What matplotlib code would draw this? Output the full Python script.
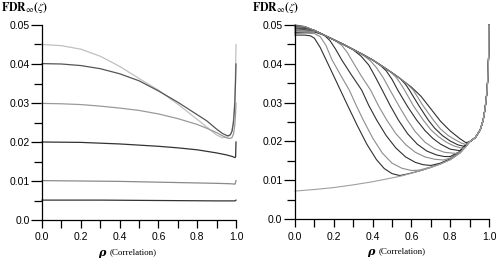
import matplotlib
matplotlib.use("Agg")
import matplotlib.pyplot as plt
from matplotlib.ticker import MultipleLocator, FixedLocator

plt.rcParams['font.family'] = ['Liberation Sans', 'DejaVu Sans']
plt.rcParams['mathtext.fontset'] = 'stix'

# ---- left panel: FDR vs correlation for several nominal levels ----
left_levels = [0.045, 0.04, 0.03, 0.02, 0.01, 0.005]
left_colors = ['#c0c0c0', '#555555', '#9a9a9a', '#333333', '#8a8a8a', '#333333']
left_rho = [
    [0, 0.1, 0.2, 0.3, 0.4, 0.5, 0.6, 0.7, 0.8, 0.85, 0.9, 0.93, 0.96, 0.975, 0.985, 0.992, 0.996, 0.999, 1.0],
    [0, 0.1, 0.2, 0.3, 0.4, 0.5, 0.6, 0.7, 0.8, 0.85, 0.9, 0.93, 0.955, 0.97, 0.98, 0.988, 0.994, 0.998, 1.0],
    [0, 0.1, 0.2, 0.3, 0.4, 0.5, 0.6, 0.7, 0.8, 0.85, 0.9, 0.93, 0.955, 0.97, 0.98, 0.988, 0.994, 0.998, 1.0],
    [0, 0.2, 0.4, 0.6, 0.7, 0.8, 0.9, 0.95, 0.98, 0.995, 0.998, 1.0],
    [0, 0.2, 0.4, 0.6, 0.8, 0.9, 0.97, 0.995, 1.0],
    [0, 0.3, 0.6, 0.9, 0.995, 1.0],
]
left_fdr = [
    [.0450, .0447, .0438, .0420, .0394, .0363, .0333, .0297, .0258, .0238, .0218, .0211, .0213, .0222, .0245, .0290, .0350, .0420, .0450],
    [.0401, .0400, .0396, .0388, .0375, .0357, .0331, .0302, .0270, .0254, .0233, .0222, .0216, .0218, .0228, .0255, .0300, .0360, .0400],
    [.0299, .0298, .0296, .0292, .0287, .0281, .0272, .0260, .0245, .0235, .0224, .0216, .0210, .0209, .0212, .0222, .0245, .0275, .0300],
    [.0200, .0199, .0195, .0189, .0185, .0180, .0172, .0167, .0163, .0160, .0162, .0200],
    [.0101, .0100, .0099, .0097, .0095, .0094, .0093, .0092, .0101],
    [.0051, .0051, .0050, .0049, .0049, .0051],
]

# ---- right panel: family of curves, envelope, bottom curve ----
right_rho = [
    [0, 0.05, 0.10, 0.15, 0.20, 0.25, 0.30, 0.35, 0.40, 0.45, 0.50, 0.55, 0.60, 0.65, 0.70, 0.75, 0.80, 0.85, 0.88],
    [0, 0.05, 0.08, 0.10, 0.13, 0.17, 0.22, 0.27, 0.32, 0.37, 0.42, 0.46, 0.50, 0.54, 0.58, 0.65, 0.70, 0.75, 0.80, 0.85, 0.88],
    [0, 0.05, 0.10, 0.13, 0.16, 0.19, 0.235, 0.28, 0.32, 0.352, 0.40, 0.45, 0.50, 0.55, 0.60, 0.64, 0.70, 0.75, 0.80, 0.85, 0.88],
    [0, 0.05, 0.10, 0.15, 0.18, 0.21, 0.241, 0.29, 0.344, 0.38, 0.421, 0.47, 0.52, 0.57, 0.62, 0.66, 0.70, 0.75, 0.80, 0.85, 0.88],
    [0, 0.05, 0.10, 0.15, 0.20, 0.24, 0.27, 0.292, 0.34, 0.39, 0.43, 0.473, 0.52, 0.57, 0.62, 0.67, 0.72, 0.765, 0.80, 0.85, 0.88],
    [0, 0.05, 0.10, 0.15, 0.20, 0.25, 0.30, 0.34, 0.38, 0.41, 0.45, 0.49, 0.533, 0.58, 0.63, 0.68, 0.73, 0.77, 0.80, 0.85, 0.88],
    [0, 0.05, 0.10, 0.15, 0.20, 0.25, 0.30, 0.35, 0.39, 0.42, 0.455, 0.49, 0.535, 0.579, 0.62, 0.67, 0.72, 0.77, 0.83, 0.86, 0.88],
    [0, 0.05, 0.10, 0.15, 0.20, 0.25, 0.30, 0.35, 0.40, 0.44, 0.47, 0.50, 0.53, 0.58, 0.627, 0.67, 0.71, 0.75, 0.80, 0.85, 0.88],
    [0, 0.05, 0.10, 0.15, 0.20, 0.30, 0.40, 0.45, 0.49, 0.52, 0.54, 0.565, 0.61, 0.661, 0.70, 0.74, 0.78, 0.82, 0.865, 0.89],
    [0, 0.05, 0.10, 0.15, 0.20, 0.30, 0.40, 0.50, 0.54, 0.57, 0.59, 0.64, 0.687, 0.72, 0.76, 0.80, 0.84, 0.875],
    [0, 0.05, 0.10, 0.15, 0.20, 0.30, 0.40, 0.50, 0.55, 0.58, 0.61, 0.66, 0.713, 0.75, 0.79, 0.83, 0.86, 0.882],
    [0, 0.1, 0.2, 0.3, 0.4, 0.5, 0.55, 0.6, 0.65, 0.7, 0.75, 0.8, 0.85, 0.88],
]
right_fdr = [
    [.0500, .0496, .0486, .0474, .0462, .0450, .0437, .0424, .0410, .0394, .0377, .0359, .0340, .0316, .0284, .0252, .0227, .0207, .0197],
    [.0474, .0474, .0472, .0466, .0442, .0400, .0347, .0294, .0242, .0193, .0153, .0130, .0117, .0112, .0116, .0125, .0133, .0142, .0153, .0170, .0186],
    [.0478, .0479, .0478, .0470, .0447, .0411, .0371, .0332, .0288, .0255, .0209, .0170, .0144, .0131, .0125, .0126, .0134, .0143, .0154, .0171, .0187],
    [.0481, .0482, .0482, .0474, .0460, .0437, .0410, .0372, .0332, .0293, .0255, .0215, .0183, .0160, .0146, .0140, .0138, .0144, .0155, .0172, .0188],
    [.0484, .0485, .0485, .0474, .0462, .0448, .0429, .0410, .0370, .0332, .0292, .0255, .0220, .0192, .0172, .0160, .0154, .0152, .0157, .0173, .0189],
    [.0487, .0488, .0486, .0474, .0462, .0450, .0436, .0420, .0397, .0370, .0332, .0293, .0255, .0220, .0193, .0175, .0165, .0161, .0161, .0174, .0190],
    [.0490, .0491, .0486, .0474, .0462, .0450, .0437, .0423, .0407, .0390, .0364, .0332, .0292, .0255, .0225, .0198, .0181, .0172, .0169, .0175, .0191],
    [.0492, .0492, .0486, .0474, .0462, .0450, .0437, .0424, .0410, .0396, .0382, .0360, .0332, .0290, .0255, .0228, .0208, .0193, .0180, .0176, .0192],
    [.0494, .0494, .0486, .0474, .0462, .0437, .0410, .0394, .0380, .0366, .0352, .0332, .0292, .0255, .0230, .0212, .0198, .0188, .0182, .0193],
    [.0496, .0495, .0486, .0474, .0462, .0437, .0410, .0377, .0363, .0347, .0332, .0291, .0255, .0234, .0215, .0201, .0191, .0187],
    [.0498, .0496, .0486, .0474, .0462, .0437, .0410, .0377, .0359, .0347, .0332, .0292, .0255, .0232, .0215, .0203, .0195, .0192],
    [.0072, .0076, .0081, .0088, .0096, .0106, .0111, .0118, .0125, .0133, .0142, .0153, .0170, .0186],
]
right_colors = ['#303030', '#303030', '#8c8c8c', '#303030', '#8c8c8c', '#303030',
                '#8c8c8c', '#303030', '#8c8c8c', '#303030', '#8c8c8c', '#a0a0a0']

# shared steep rise of every right-panel curve towards rho = 1
tail_rho = [0.90, 0.93, 0.955, 0.97, 0.98, 0.99, 0.995, 0.998, 1.0]
tail_fdr = [.0199, .0210, .0230, .0255, .0285, .0330, .0375, .0420, .0500]

y_ticks = [0.0, 0.01, 0.02, 0.03, 0.04, 0.05]
y_labels = ['0.0', '0.01', '0.02', '0.03', '0.04', '0.05']
x_ticks = [0.0, 0.2, 0.4, 0.6, 0.8, 1.0]
x_labels = ['0.0', '0.2', '0.4', '0.6', '0.8', '1.0']

W, H = 496, 260
fig = plt.figure(figsize=(W / 100, H / 100), dpi=100)
ax_l = fig.add_axes([42 / W, 40 / H, 194 / W, 195 / H])
ax_r = fig.add_axes([295 / W, 41 / H, 194 / W, 194 / H])


def style(ax):
    ax.set_xlim(0, 1)
    ax.set_ylim(0, 0.05)
    for s in ['top', 'right']:
        ax.spines[s].set_visible(False)
    for s in ['left', 'bottom']:
        ax.spines[s].set_linewidth(0.9)
    ax.yaxis.set_major_locator(FixedLocator(y_ticks))
    ax.set_yticklabels(y_labels)
    ax.yaxis.set_minor_locator(MultipleLocator(0.005))
    ax.xaxis.set_major_locator(FixedLocator(x_ticks))
    ax.set_xticklabels(x_labels)
    ax.xaxis.set_minor_locator(MultipleLocator(0.1))
    ax.tick_params(axis='y', which='major', length=8, width=0.9, pad=1, labelsize=7.5)
    ax.tick_params(axis='y', which='minor', length=5.5, width=0.9)
    ax.tick_params(axis='x', which='both', length=5.5, width=0.9, pad=3.5, labelsize=7.5)


style(ax_l)
style(ax_r)

for r, f, c in zip(left_rho, left_fdr, left_colors):
    ax_l.plot(r, f, color=c, lw=0.9, clip_on=False)

for r, f, c in zip(right_rho, right_fdr, right_colors):
    ax_r.plot(r + tail_rho, f + tail_fdr, color=c, lw=0.8, clip_on=False)

# titles and axis labels
title = r'$\mathbf{FDR}_{\infty}\mathbf{(}\zeta\mathbf{)}$'
fig.text(1 / W, 1 - 8 / H, title, fontsize=8.5, va='center', ha='left')
fig.text(252 / W, 1 - 8 / H, title, fontsize=8.5, va='center', ha='left')

for ax, start in [(ax_l, 0.29), (ax_r, 0.37)]:
    ax.text(start, -0.165, 'ρ', transform=ax.transAxes, family='DejaVu Serif',
            style='italic', weight='bold', fontsize=8, va='center', ha='left')
    ax.text(start + 0.06, -0.165, '(Correlation)', transform=ax.transAxes,
            family='Liberation Serif', fontsize=6.5, va='center', ha='left')

fig.savefig('out.png', dpi=100)
